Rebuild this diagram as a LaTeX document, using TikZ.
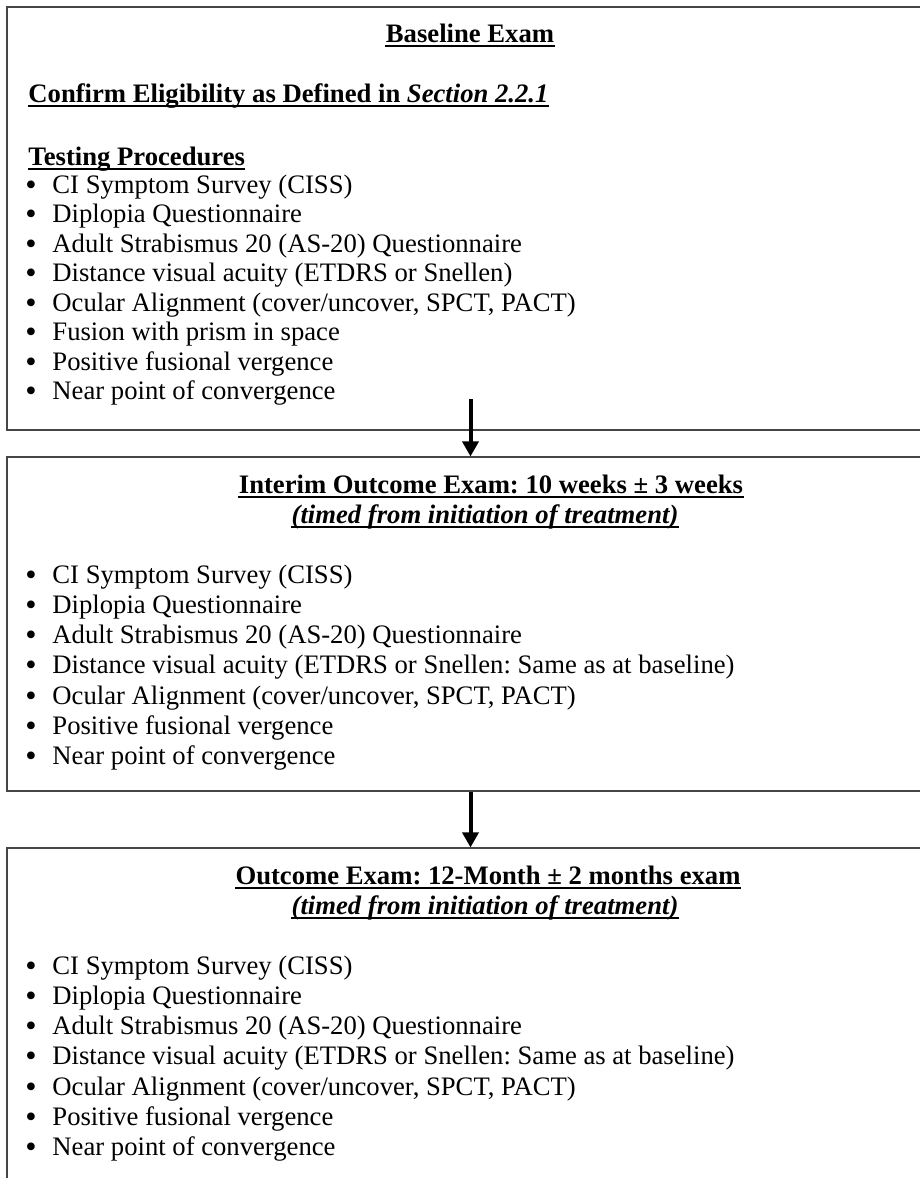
\documentclass[tikz,border=0pt]{standalone}
\usepackage{fontspec}
\setmainfont{Liberation Serif}
\usetikzlibrary{arrows.meta, calc}
\definecolor{examline}{RGB}{70, 70, 70}
\frenchspacing

\tikzset{
  examBox/.style={draw=examline, line width=0.5pt, inner sep=0pt, minimum width=927*0.45pt},
  examText/.style={anchor=base west, inner sep=0pt, font=\fontsize{12pt}{13.5pt}\selectfont},
  examDot/.style={anchor=base west, inner sep=0pt, font=\fontsize{14.5pt}{14.5pt}\selectfont},
  examHead/.style={examText, anchor=base, font=\fontsize{12pt}{13.5pt}\selectfont\bfseries},
  ulRule/.style={line width=0.6pt},
  stepArrow/.style={line width=1.8pt, -{Triangle[width=7.2pt, length=6.8pt]}}
}

\begin{document}
\begin{tikzpicture}[x=0.45pt, y=-0.45pt]

\useasboundingbox (0,0) rectangle (920,1178);
\clip (0,0) rectangle (920,1178);

% Cajas
\node[examBox, minimum height=423*0.45pt] (baseline) at (470.5,218.5) {};
\node[examBox, minimum height=334*0.45pt] (interim) at (470.5,624) {};
\node[examBox, minimum height=412*0.45pt] (outcome) at (470.5,1054) {};

% Baseline Exam
\node[examHead] (baseTitle) at (470,42) {Baseline Exam};
\node[examText, font=\fontsize{12pt}{13.5pt}\selectfont\bfseries] (baseElig) at (28,102)
  {Confirm Eligibility as Defined in \textit{Section 2.2.1}};
\node[examText, font=\fontsize{12pt}{13.5pt}\selectfont\bfseries] (baseTesting) at (28,165) {Testing Procedures};
\foreach \n in {baseTitle, baseElig, baseTesting}
  \draw[ulRule] ($(\n.base west)+(0,4)$) -- ($(\n.base east)+(0,4)$);
\foreach \item [count=\i from 0] in {CI Symptom Survey (CISS), Diplopia Questionnaire,
    Adult Strabismus 20 (AS-20) Questionnaire, {Distance visual acuity (ETDRS or Snellen)},
    {Ocular Alignment (cover/uncover, SPCT, PACT)}, Fusion with prism in space,
    Positive fusional vergence, Near point of convergence} {
  \node[examDot] (baseDot\i) at (25,{195+29.5*\i}) {\textbullet};
  \node[examText] (baseItem\i) at (52,{193+29.5*\i}) {\item};
}
\coordinate (baseTail) at (470.5,399);

% Interim Outcome Exam
\node[examHead] (interimTitle) at (491,493) {Interim Outcome Exam: 10 weeks ± 3 weeks};
\node[examHead, font=\fontsize{12pt}{13.5pt}\selectfont\bfseries\itshape] (interimTimed) at (485,523)
  {(timed from initiation of treatment)};
\foreach \item [count=\i from 0] in {CI Symptom Survey (CISS), Diplopia Questionnaire,
    Adult Strabismus 20 (AS-20) Questionnaire,
    {Distance visual acuity (ETDRS or Snellen: Same as at baseline)},
    {Ocular Alignment (cover/uncover, SPCT, PACT)},
    Positive fusional vergence, Near point of convergence} {
  \node[examDot] (interimDot\i) at (25,{585+30.3*\i}) {\textbullet};
  \node[examText] (interimItem\i) at (52,{583+30.3*\i}) {\item};
}

% Outcome Exam
\node[examHead] (outcomeTitle) at (488,884) {Outcome Exam: 12-Month ± 2 months exam};
\node[examHead, font=\fontsize{12pt}{13.5pt}\selectfont\bfseries\itshape] (outcomeTimed) at (485,914)
  {(timed from initiation of treatment)};
\foreach \item [count=\i from 0] in {CI Symptom Survey (CISS), Diplopia Questionnaire,
    Adult Strabismus 20 (AS-20) Questionnaire,
    {Distance visual acuity (ETDRS or Snellen: Same as at baseline)},
    {Ocular Alignment (cover/uncover, SPCT, PACT)},
    Positive fusional vergence, Near point of convergence} {
  \node[examDot] (outcomeDot\i) at (25,{976+30.3*\i}) {\textbullet};
  \node[examText] (outcomeItem\i) at (52,{974+30.3*\i}) {\item};
}

% Subrayados de encabezados
\foreach \n in {interimTitle, interimTimed, outcomeTitle, outcomeTimed}
  \draw[ulRule] ($(\n.base west)+(0,4)$) -- ($(\n.base east)+(0,4)$);

% Flechas
\draw[stepArrow] (baseTail) -- (interim.north);
\draw[stepArrow] (interim.south) -- (outcome.north);

\end{tikzpicture}
\end{document}
